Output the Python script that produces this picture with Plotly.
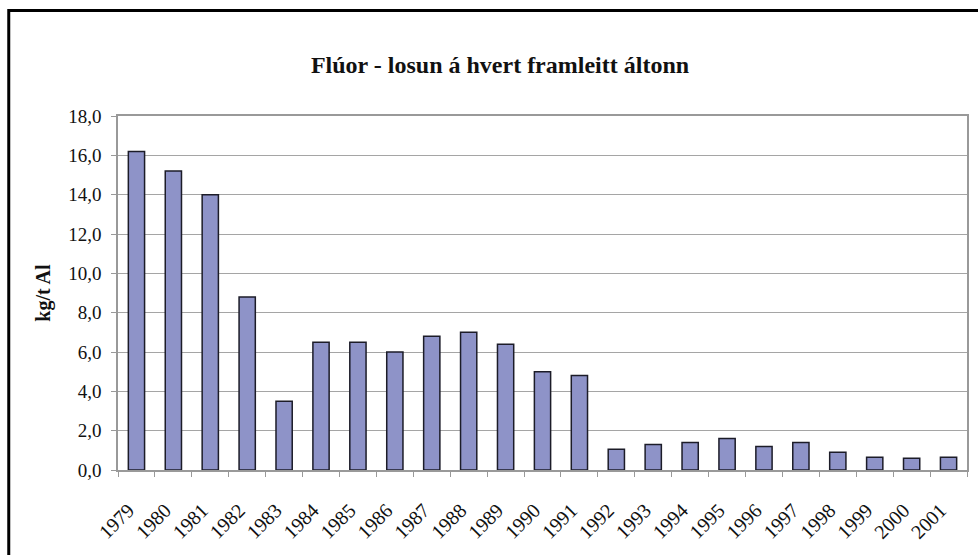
import plotly.graph_objects as go

# Fluoride emission per tonne of aluminium produced
years = [str(y) for y in range(1979, 2002)]
emission = [16.2, 15.2, 14.0, 8.8, 3.5, 6.5, 6.5, 6.0, 6.8, 7.0, 6.4, 5.0, 4.8,
            1.05, 1.3, 1.4, 1.6, 1.2, 1.4, 0.9, 0.65, 0.6, 0.65]
y_ticks = [0, 2, 4, 6, 8, 10, 12, 14, 16, 18]
y_tick_text = ["0,0", "2,0", "4,0", "6,0", "8,0", "10,0", "12,0", "14,0", "16,0", "18,0"]

W, H = 978, 555
L, R, T, B = 118, 9, 116, 85
pw, ph = W - L - R, H - T - B

def px(x):
    return (x - L) / pw

def py(y):
    return (H - B - y) / ph

FONT = "Liberation Serif"

fig = go.Figure(go.Bar(
    x=years, y=emission,
    marker=dict(color="#8E93C8", line=dict(color="#1c1c28", width=1.5)),
))

fig.update_layout(
    width=W, height=H,
    margin=dict(l=L, r=R, t=T, b=B),
    paper_bgcolor="white", plot_bgcolor="white",
    bargap=0.56,
    showlegend=False,
    font=dict(family=FONT, color="#111111", size=19),
    title=dict(text="<b>Flúor - losun á hvert framleitt áltonn</b>",
               x=500 / W, xref="container", xanchor="center",
               y=1 - 65 / H, yref="container", yanchor="middle",
               font=dict(family=FONT, size=24, color="#111111")),
    xaxis=dict(
        type="category", tickson="boundaries", tickangle=-45,
        ticks="outside", ticklen=5, tickcolor="#999999",
        ticklabelstandoff=19, ticklabelshift=-8,
        showline=True, linecolor="#999999", linewidth=1.5, mirror=True,
        showgrid=False, tickfont=dict(family=FONT, size=20),
    ),
    yaxis=dict(
        range=[0, 18], tickvals=y_ticks, ticktext=y_tick_text,
        ticks="outside", ticklen=5, tickcolor="#999999",
        ticklabelstandoff=6,
        showline=True, linecolor="#999999", linewidth=1.5, mirror=True,
        showgrid=True, gridcolor="#A5A5A5", gridwidth=1,
        zeroline=False, tickfont=dict(family=FONT, size=19),
        title=dict(text="<b>kg/t Al</b>", font=dict(family=FONT, size=20), standoff=12),
    ),
    shapes=[dict(type="rect", xref="paper", yref="paper",
                 x0=px(8.5), x1=px(995), y0=py(575), y1=py(10.5),
                 line=dict(color="black", width=3), fillcolor="rgba(0,0,0,0)")],
)

fig.write_html("out.html")
